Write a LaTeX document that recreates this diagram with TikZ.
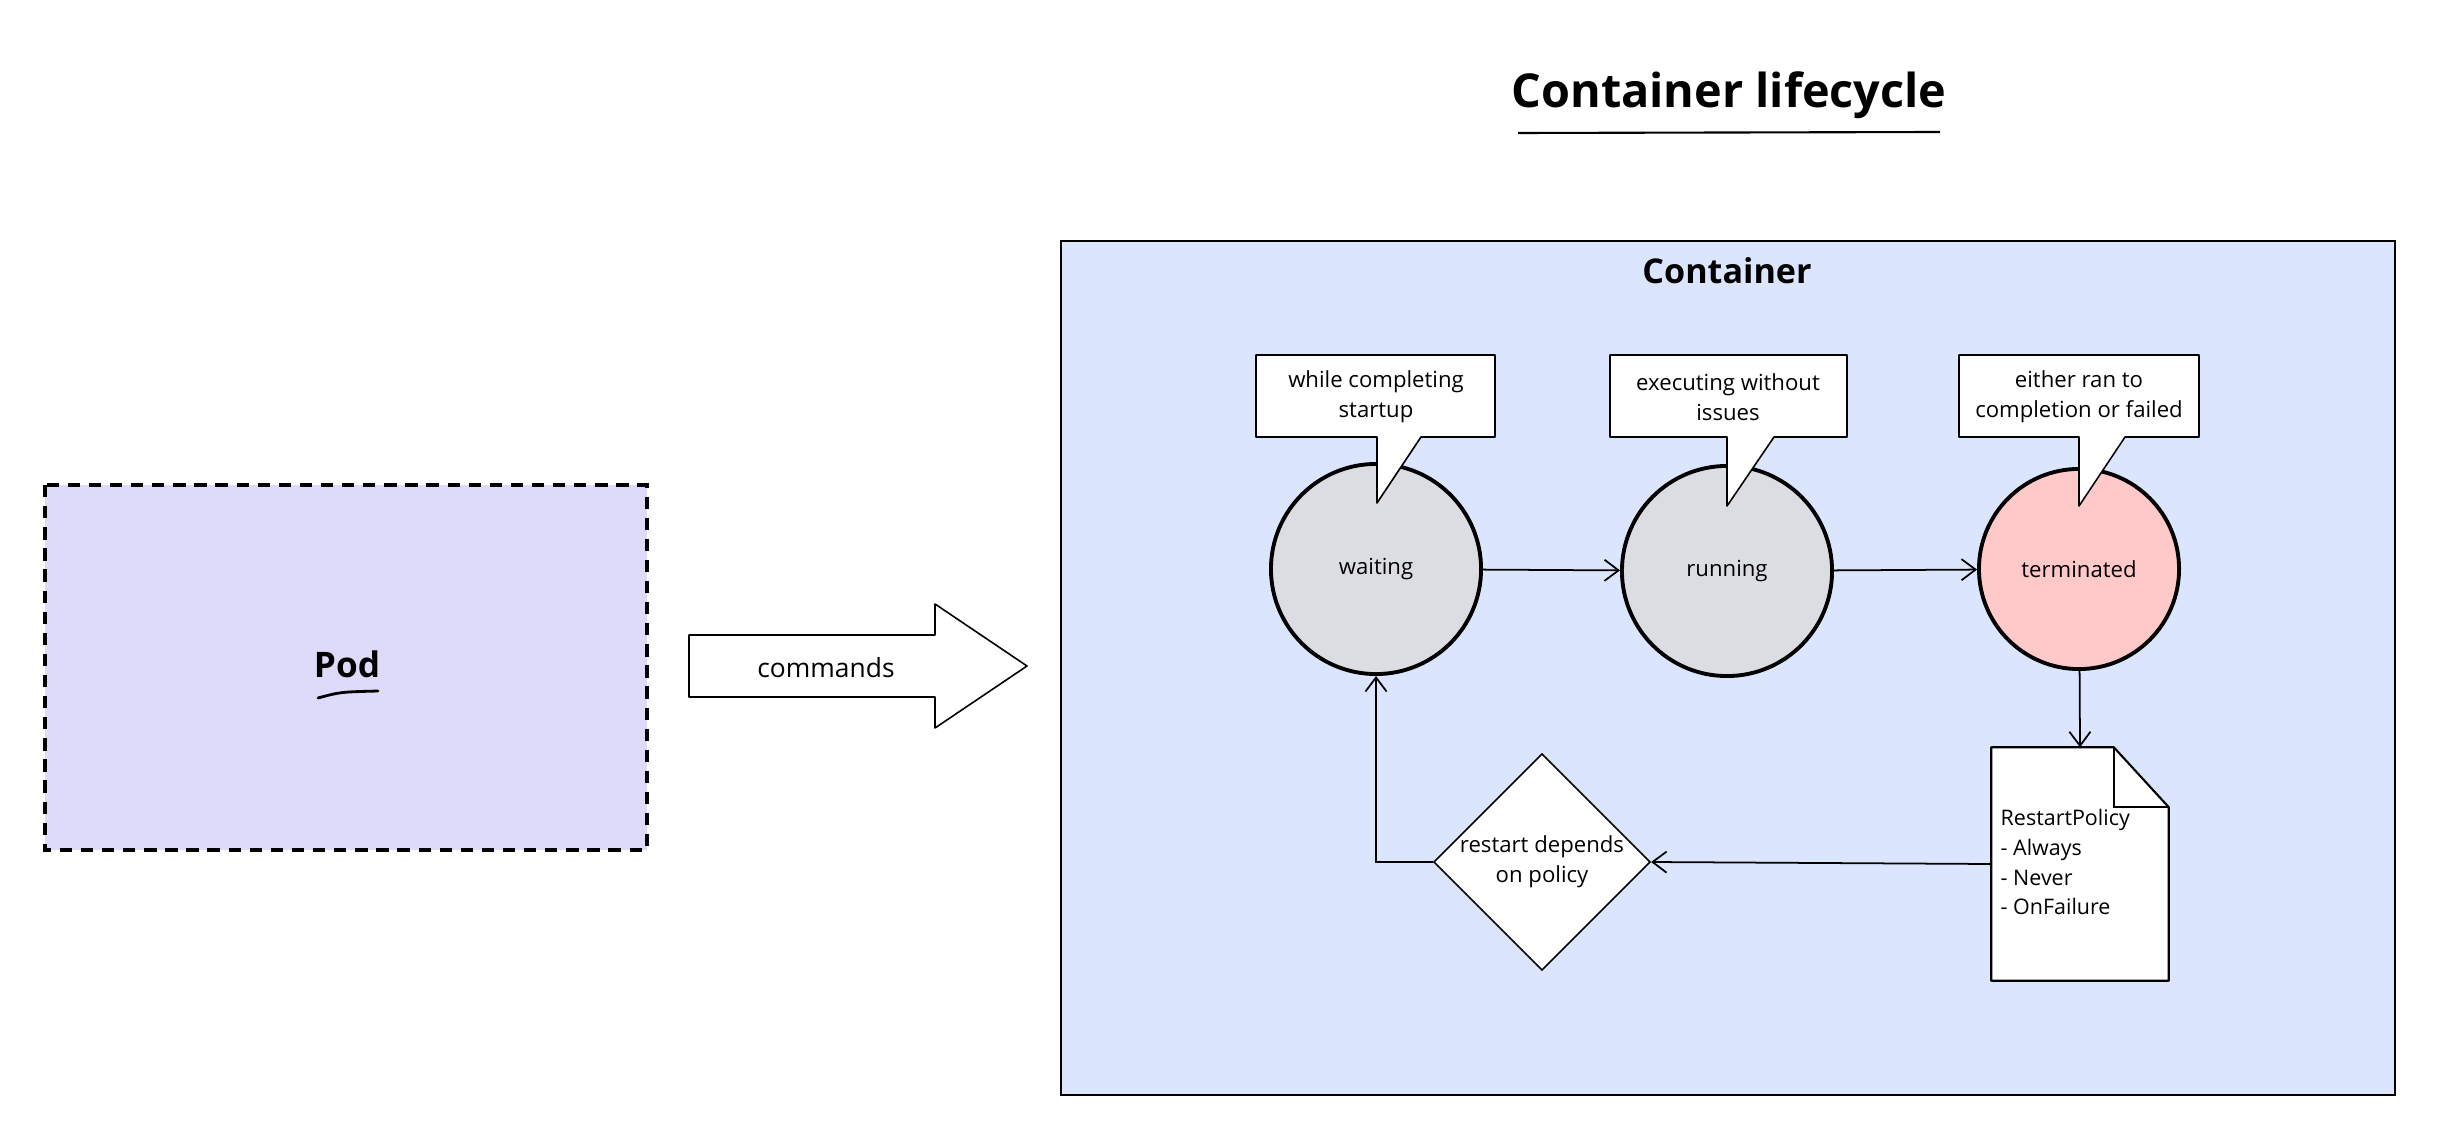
\documentclass[tikz,border=0pt]{standalone}
\usepackage{fontspec}
\setmainfont{Open Sans}
\usetikzlibrary{shapes.geometric,arrows.meta,calc}
\definecolor{contbg}{RGB}{220,229,254}
\definecolor{podbg}{RGB}{222,218,250}
\definecolor{greyfill}{RGB}{220,221,226}
\definecolor{redfill}{RGB}{255,201,201}
\begin{document}
\begin{tikzpicture}[x=0.01cm,y=-0.01cm,
  smalltxt/.style={font=\fontsize{6.3pt}{8.6pt}\selectfont, align=center},
  state/.style={circle, draw=black, line width=1.1pt, minimum size=2.1cm, inner sep=0pt, smalltxt},
  callout/.style={fill=white, draw=black, line width=0.45pt, line join=round},
  conn/.style={draw=black, line width=0.5pt, -{Straight Barb[length=4pt,width=6pt]}},
  thin/.style={draw=black, line width=0.45pt}]
\useasboundingbox (0,0) rectangle (2440,1140);
\fill[white] (0,0) rectangle (2440,1140);

% title
\node[font=\fontsize{13.3pt}{15pt}\selectfont\bfseries] (title) at (1729,95) {Container lifecycle};
\draw[line width=0.6pt] (1518,133) -- (1940,132);

% container
\draw[thin, fill=contbg] (1061,241) rectangle (2395,1095);
\node[font=\fontsize{9.7pt}{11pt}\selectfont\bfseries] (ctitle) at (1727,271) {Container};

% pod
\draw[fill=podbg, line width=1pt, dash pattern=on 3.5pt off 2.5pt] (45,485) rectangle (647,850);
\node[font=\fontsize{10pt}{12pt}\selectfont\bfseries] (pod) at (347,664) {Pod};
\draw[line width=0.8pt, line cap=round] (318,698) .. controls (340,692) .. (378,691);

% commands arrow
\draw[thin, fill=white, line join=round] (689,635) -- (935,635) -- (935,604) -- (1027,666) -- (935,728) -- (935,697) -- (689,697) -- cycle;
\node[font=\fontsize{7.5pt}{9pt}\selectfont] (cmd) at (826,668) {commands};

% states
\node[state, fill=greyfill] (w) at (1376,569) {waiting};
\node[state, fill=greyfill] (r) at (1727,571) {running};
\node[state, fill=redfill, minimum size=2.0cm] (t) at (2079,569) {terminated};

% callouts
\draw[callout] (1256,355) -- (1495,355) -- (1495,437) -- (1421,437) -- (1377,503) -- (1377,437) -- (1256,437) -- cycle;
\node[smalltxt] (c1) at (1376,397) {while completing\\startup};
\draw[callout] (1610,355) -- (1847,355) -- (1847,437) -- (1774,437) -- (1727,506) -- (1727,437) -- (1610,437) -- cycle;
\node[smalltxt] (c2) at (1728,397) {executing without\\issues};
\draw[callout] (1959,355) -- (2199,355) -- (2199,437) -- (2125,437) -- (2079,506) -- (2079,437) -- (1959,437) -- cycle;
\node[smalltxt] (c3) at (2079,397) {either ran to\\completion or failed};

% document
\node[minimum width=1.76cm, minimum height=2.32cm, inner sep=0pt] (doc) at (2080,864) {};
\draw[fill=white, line join=round, line width=0.6pt]
  (doc.north west) -- ($(doc.north east)+(-55,0)$) -- ($(doc.north east)+(0,60)$) -- (doc.south east) -- (doc.south west) -- cycle;
\draw[thin] ($(doc.north east)+(-55,0)$) -- ($(doc.north east)+(-55,60)$) -- ($(doc.north east)+(0,60)$);
\node[align=left, anchor=west, inner sep=0pt, font=\fontsize{6.1pt}{8.5pt}\selectfont] (doctext) at (2000,862) {RestartPolicy\\- Always\\- Never\\- OnFailure};

% diamond
\node[diamond, draw=black, fill=white, line width=0.45pt, minimum width=2.07cm, minimum height=2.06cm, inner sep=0pt, smalltxt] (d) at (1542,862) {restart depends\\on policy};

% connectors
\draw[conn] (w) -- (r);
\draw[conn] (r) -- (t);
\draw[conn] (t) -- (doc.north);
\draw[conn] (doc.west) -- (d.east);
\draw[conn] (d.west) -| (w.south);
\end{tikzpicture}
\end{document}
